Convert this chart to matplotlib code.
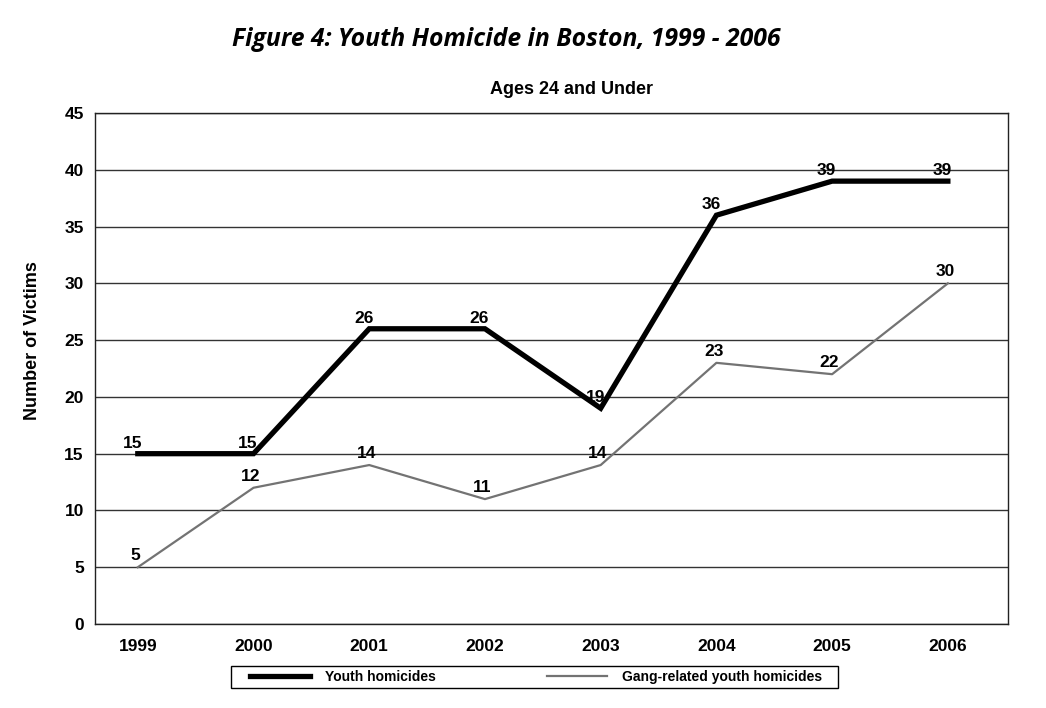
import matplotlib
matplotlib.use("Agg")
import matplotlib.pyplot as plt
from matplotlib.patches import Rectangle

# datos
anios = ["1999", "2000", "2001", "2002", "2003", "2004", "2005", "2006"]
jovenes = [15, 15, 26, 26, 19, 36, 39, 39]
bandas = [5, 12, 14, 11, 14, 23, 22, 30]
ticks_y = [0, 5, 10, 15, 20, 25, 30, 35, 40, 45]

plt.rcParams['font.family'] = ['Liberation Sans', 'DejaVu Sans']

fig = plt.figure(figsize=(10.46, 7.08), dpi=100)
ax = fig.add_axes([0.0908, 0.1186, 0.8729, 0.7218])

x = list(range(len(anios)))
ax.plot(x, jovenes, color="black", lw=3.8, label="Youth homicides", solid_joinstyle="miter")
ax.plot(x, bandas, color="#737373", lw=1.6, label="Gang-related youth homicides")

for i, v in enumerate(jovenes):
    ax.annotate(str(v), (i, v), xytext=(-4, 2), textcoords="offset points",
                ha="center", va="bottom", fontsize=12.5, fontweight="bold")
for i, v in enumerate(bandas):
    ax.annotate(str(v), (i, v), xytext=(-2, 3), textcoords="offset points",
                ha="center", va="bottom", fontsize=12.5, fontweight="bold")

ax.set_xlim(-0.37, 7.52)
ax.set_ylim(0, 45)
ax.set_yticks(ticks_y)
ax.set_xticks(x)
ax.set_xticklabels(anios)
ax.tick_params(axis="both", length=0, labelsize=12.5)
ax.tick_params(axis="y", pad=8)
ax.tick_params(axis="x", pad=11)
for lab in ax.get_xticklabels() + ax.get_yticklabels():
    lab.set_fontweight("bold")
ax.yaxis.grid(True, color="#333333", lw=1.0)
ax.set_axisbelow(True)
for s in ax.spines.values():
    s.set_color("#222222")
    s.set_linewidth(1.0)

ax.set_ylabel("Number of Victims", fontsize=13, fontweight="bold")
ax.yaxis.set_label_coords(-0.059, 0.554)

fig.text(0.484, 0.944, "Figure 4: Youth Homicide in Boston, 1999 - 2006",
         ha="center", va="center", fontsize=17.8, fontweight="bold", style="italic",
         family=["Open Sans", "DejaVu Sans"])
fig.text(0.546, 0.874, "Ages 24 and Under", ha="center", va="center",
         fontsize=13, fontweight="bold")

# caja de la leyenda dibujada aparte
fig.patches.append(Rectangle((231 / 1046, 1 - 688 / 708), 607 / 1046, 22 / 708,
                             transform=fig.transFigure, fill=False,
                             edgecolor="black", lw=1.0))
leg = fig.legend(loc="center left", bbox_to_anchor=(250 / 1046, 1 - 677 / 708), ncol=2,
                 frameon=False, prop={"size": 10, "weight": "bold"},
                 handlelength=4.3, columnspacing=8.0, borderpad=0,
                 handletextpad=1.1, borderaxespad=0)

fig.savefig("out.png", dpi=100)
